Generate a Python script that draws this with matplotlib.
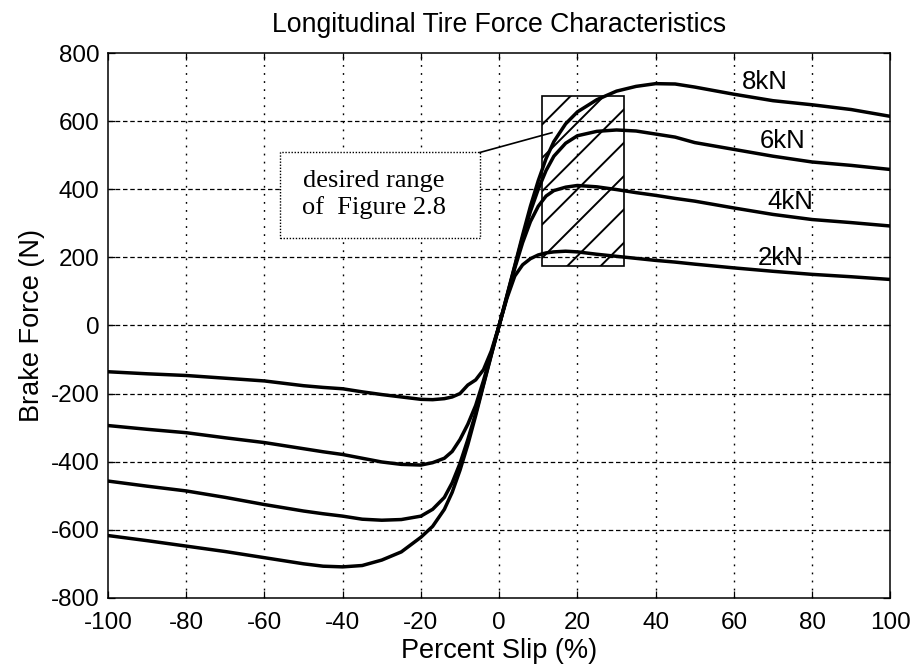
import matplotlib
matplotlib.use("Agg")
import matplotlib.pyplot as plt
from matplotlib.patches import Rectangle

# Percent slip sample points
slip = [-100, -90, -80, -70, -60, -50, -45, -40, -35, -30, -25, -20, -17, -14, -12,
        -10, -8, -6, -4, -2, 0, 2, 4, 6, 8, 10, 12, 14, 17, 20, 25, 30, 35, 40,
        45, 50, 60, 70, 80, 90, 100]

# Brake force (N) for each normal load
force_2kN = [-136, -142, -147, -155, -163, -177, -182, -186, -195, -203, -210, -217,
             -218, -215, -210, -200, -175, -160, -130, -75, 0, 80, 145, 178, 196,
             207, 213, 216, 218, 216, 209, 203, 197, 191, 186, 180, 169, 159, 150,
             143, 135]
force_4kN = [-294, -305, -315, -330, -344, -362, -371, -379, -390, -401, -408, -410,
             -403, -390, -370, -335, -290, -235, -162, -82, 0, 84, 168, 243, 305,
             350, 380, 396, 406, 411, 407, 399, 390, 382, 373, 365, 345, 326, 311,
             302, 292]
force_6kN = [-457, -472, -486, -505, -526, -545, -553, -560, -569, -572, -570, -560,
             -540, -505, -462, -405, -335, -258, -172, -85, 0, 86, 173, 258, 335,
             400, 455, 497, 535, 557, 570, 574, 571, 562, 553, 537, 517, 497, 480,
             470, 458]
force_8kN = [-617, -632, -648, -664, -682, -700, -707, -709, -705, -689, -665, -622,
             -590, -540, -490, -425, -350, -265, -175, -87, 0, 88, 176, 265, 350,
             425, 490, 540, 592, 627, 663, 688, 702, 710, 709, 700, 679, 660, 648,
             634, 614]

curves = [force_2kN, force_4kN, force_6kN, force_8kN]
curve_labels = ["2kN", "4kN", "6kN", "8kN"]
label_pos = [(72, 198), (74.5, 362), (72.5, 543), (68, 716)]

x_ticks = list(range(-100, 101, 20))
y_ticks = list(range(-800, 801, 200))

# Region of interest shown hatched
roi_x = (11, 32)
roi_y = (175, 675)

# Call-out box (data coordinates) and the point it refers to
note_x = (-56, -4.9)
note_y = (258, 508)
note_target = (13.5, 566)

sans = ["Liberation Sans", "DejaVu Sans"]
serif = ["Liberation Serif", "DejaVu Serif"]
plt.rcParams["font.family"] = sans
plt.rcParams["axes.unicode_minus"] = False
plt.rcParams["hatch.linewidth"] = 1.4

fig = plt.figure(figsize=(9.15, 6.71), dpi=100)
ax = fig.add_axes([0.118, 0.109, 0.855, 0.812])

for f in curves:
    ax.plot(slip, f, color="black", lw=2.5, solid_joinstyle="round", zorder=4)

for name, (lx, ly) in zip(curve_labels, label_pos):
    ax.text(lx, ly, name, fontsize=18.5, ha="center", va="center", zorder=5)

ax.set_xlim(-100, 100)
ax.set_ylim(-800, 800)
ax.set_xticks(x_ticks)
ax.set_yticks(y_ticks)
ax.tick_params(direction="in", length=5, width=0.9, labelsize=17.5,
               top=True, right=True)
ax.tick_params(axis="x", pad=10)
ax.tick_params(axis="y", pad=6)
for s in ax.spines.values():
    s.set_linewidth(1.1)

# Grid: dotted verticals, dashed horizontals
for xv in x_ticks[1:-1]:
    ax.axvline(xv, color="black", lw=1.0, linestyle=(0, (1.3, 4.5)), zorder=1)
for yv in y_ticks[1:-1]:
    ax.axhline(yv, color="black", lw=0.9, linestyle=(0, (3.6, 2.2)), zorder=1)

ax.add_patch(Rectangle((roi_x[0], roi_y[0]), roi_x[1] - roi_x[0], roi_y[1] - roi_y[0],
                       fill=False, edgecolor="black", lw=1.2, hatch="/", zorder=3))

# Call-out: dotted box, leader line and serif text
ax.add_patch(Rectangle((note_x[0], note_y[0]), note_x[1] - note_x[0], note_y[1] - note_y[0],
                       facecolor="white", edgecolor="black", lw=1.0,
                       linestyle=(0, (1, 1.2)), zorder=6))
ax.plot([note_x[1], note_target[0]], [note_y[1], note_target[1]],
        color="black", lw=1.2, zorder=6)
ax.text((note_x[0] + note_x[1]) / 2 - 1.6, (note_y[0] + note_y[1]) / 2 + 2,
        "desired range\nof  Figure 2.8", fontsize=19, family=serif,
        ha="center", va="center", linespacing=1.25, zorder=7)

ax.set_title("Longitudinal Tire Force Characteristics", fontsize=19.2, pad=15)
ax.set_xlabel("Percent Slip (%)", fontsize=19.5, labelpad=3)
ax.set_ylabel("Brake Force (N)", fontsize=19.5, labelpad=4)

fig.savefig("out.png", dpi=100)
